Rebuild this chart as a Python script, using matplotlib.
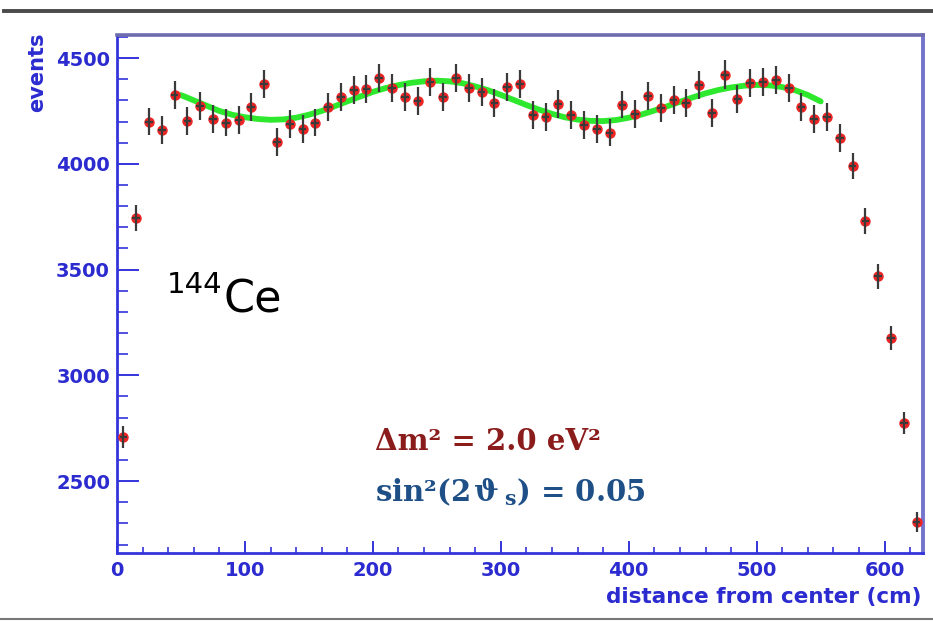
import numpy as np
import matplotlib
matplotlib.use("Agg")
import matplotlib.pyplot as plt
from matplotlib.lines import Line2D
from matplotlib.ticker import MultipleLocator

plt.rcParams["mathtext.fontset"] = "dejavuserif"
plt.rcParams["mathtext.default"] = "bf"

# Binned event counts along the detector radius (10 cm bins)
distance_cm = [5, 15, 25, 35, 45, 55, 65, 75, 85, 95,
               105, 115, 125, 135, 145, 155, 165, 175, 185, 195,
               205, 215, 225, 235, 245, 255, 265, 275, 285, 295,
               305, 315, 325, 335, 345, 355, 365, 375, 385, 395,
               405, 415, 425, 435, 445, 455, 465, 475, 485, 495,
               505, 515, 525, 535, 545, 555, 565, 575, 585, 595,
               605, 615, 625]
events = [2708, 3745, 4200, 4160, 4325, 4202, 4273, 4212, 4194, 4207,
          4268, 4377, 4103, 4188, 4164, 4194, 4268, 4317, 4349, 4353,
          4405, 4358, 4317, 4298, 4388, 4317, 4405, 4358, 4341, 4287,
          4364, 4377, 4230, 4222, 4283, 4230, 4183, 4164, 4147, 4280,
          4235, 4321, 4264, 4301, 4289, 4372, 4240, 4422, 4306, 4382,
          4388, 4396, 4358, 4270, 4212, 4222, 4122, 3989, 3730, 3469,
          3176, 2774, 2306]
# Poisson uncertainty of each bin
event_err = np.sqrt(np.array(events, dtype=float))

# Oscillation model curve
model_cm = [50, 60, 70, 80, 90, 100, 110, 120, 130, 140,
            150, 160, 170, 180, 190, 200, 210, 220, 230, 240,
            250, 260, 270, 280, 290, 300, 310, 320, 330, 340,
            350, 360, 370, 380, 390, 400, 410, 420, 430, 440,
            450, 460, 470, 480, 490, 500, 510, 520, 530, 540, 550]
model_events = [4325, 4300, 4275, 4250, 4232, 4220, 4212, 4208, 4210, 4218,
                4232, 4250, 4272, 4295, 4318, 4340, 4358, 4372, 4383, 4390,
                4393, 4390, 4381, 4366, 4348, 4326, 4302, 4278, 4256, 4236,
                4220, 4209, 4203, 4202, 4207, 4218, 4233, 4252, 4272, 4293,
                4314, 4333, 4349, 4361, 4369, 4373, 4371, 4363, 4348, 4325, 4295]

x_ticks = [0, 100, 200, 300, 400, 500, 600]
y_ticks = [2500, 3000, 3500, 4000, 4500]

W, H = 933, 623
fig = plt.figure(figsize=(W / 100, H / 100), dpi=100)
fig.patch.set_facecolor("white")

left, right, top, bottom = 117, 923, 35, 553
ax = fig.add_axes([left / W, 1 - bottom / H, (right - left) / W, (bottom - top) / H])

axis_blue = "#3434dc"
label_blue = "#2b2bd0"

ax.plot(model_cm, model_events, color="#2ee82e", lw=4.2, solid_capstyle="round", zorder=2)
ax.plot(distance_cm, events, "o", color="#ec2424", ms=6.5, mec="#ec2424", zorder=3)
ax.errorbar(distance_cm, events, yerr=event_err, xerr=3, fmt="none",
            ecolor="#3a3a3a", elinewidth=1.6, capsize=0, zorder=4)

ax.set_xlim(0, 630)
ax.set_ylim(2160, 4609)
ax.set_xticks(x_ticks)
ax.set_yticks(y_ticks)
ax.xaxis.set_minor_locator(MultipleLocator(20))
ax.yaxis.set_minor_locator(MultipleLocator(100))
ax.tick_params(axis="y", which="major", direction="in", length=16, width=1.4,
               color=axis_blue, labelcolor=label_blue, labelsize=14, pad=5)
ax.tick_params(axis="y", which="minor", direction="in", length=8, width=1.2, color=axis_blue)
ax.tick_params(axis="x", which="major", direction="in", length=9, width=1.4,
               color=axis_blue, labelcolor=label_blue, labelsize=14, pad=6)
ax.tick_params(axis="x", which="minor", direction="in", length=4, width=1.2, color=axis_blue)
for lab in ax.get_xticklabels() + ax.get_yticklabels():
    lab.set_fontweight("bold")

ax.spines["left"].set_color(axis_blue)
ax.spines["left"].set_linewidth(2)
ax.spines["bottom"].set_color(axis_blue)
ax.spines["bottom"].set_linewidth(2)
ax.spines["top"].set_color("#6c6cae")
ax.spines["top"].set_linewidth(2.6)
ax.spines["right"].set_color("#7474cc")
ax.spines["right"].set_linewidth(2.8)

fig.text(37 / W, 1 - 33 / H, "events", rotation=90, ha="center", va="top",
         fontsize=15, fontweight="bold", color=label_blue)
fig.text(922 / W, 1 - 597 / H, "distance from center (cm)", ha="right", va="center",
         fontsize=15.5, fontweight="bold", color=label_blue)

# isotope label
fig.text(222 / W, 1 - 293 / H, "144", ha="right", va="baseline",
         fontsize=21, family="DejaVu Sans", color="black")
fig.text(223 / W, 1 - 312 / H, "Ce", ha="left", va="baseline",
         fontsize=32, family="DejaVu Sans", color="black")

# oscillation parameters
fig.text(375 / W, 1 - 441 / H, "Δm² = 2.0 eV²", ha="left", va="center",
         fontsize=21, family="DejaVu Serif", fontweight="bold", color="#8a1c1c")
fig.text(375 / W, 1 - 492 / H, "sin²(2\u200a$\\vartheta$\u2009$_s$) = 0.05", ha="left", va="center",
         fontsize=21, family="DejaVu Serif", fontweight="bold", color="#1e4f86")

# frame lines of the page
fig.add_artist(Line2D([4 / W, 1], [1 - 11 / H] * 2, color="#4a4a4a", lw=2.8))
fig.add_artist(Line2D([0, 1], [1 - 619 / H] * 2, color="#777777", lw=1.5))

fig.savefig("out.png", dpi=100)
